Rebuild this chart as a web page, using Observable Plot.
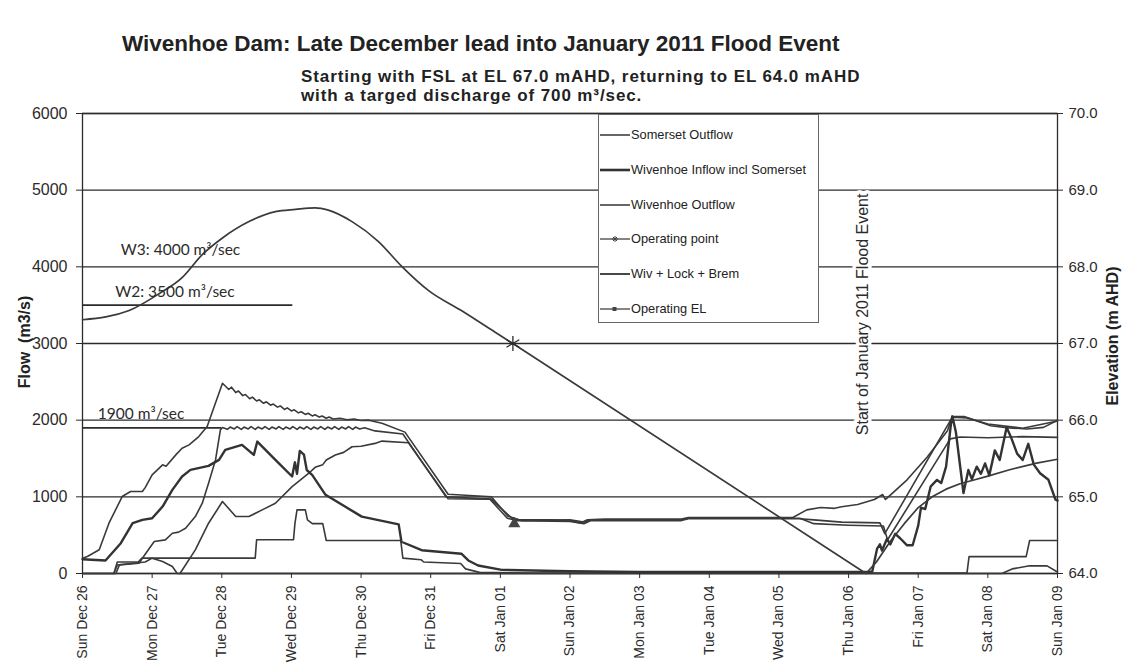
<!DOCTYPE html>
<html><head><meta charset="utf-8">
<script src="https://cdn.jsdelivr.net/npm/d3@7"></script>
<script src="https://cdn.jsdelivr.net/npm/@observablehq/plot@0.6"></script>
<style>
body{margin:0;background:#fff;width:1130px;height:664px;overflow:hidden;position:relative;font-family:"Liberation Sans",Arial,sans-serif;color:#222;}
#title{position:absolute;left:122px;top:31px;font-weight:bold;font-size:22.5px;white-space:nowrap;}
#sub{position:absolute;left:301px;top:67px;font-weight:bold;font-size:17px;letter-spacing:0.9px;line-height:19px;white-space:nowrap;}
#chart{position:absolute;left:0;top:100px;}
.ylab{position:absolute;font-weight:bold;font-size:16px;white-space:nowrap;transform:translate(-50%,-50%) rotate(-90deg);}
#legend{position:absolute;left:598px;top:114px;width:219px;height:207px;background:#fff;border:1px solid #666;}
.lg{position:absolute;left:0;height:15px;font-size:12.8px;white-space:nowrap;}
.lg svg{position:absolute;left:1px;top:3px;}
.lg span{position:absolute;left:32px;top:0;}
</style></head>
<body>
<div id="title">Wivenhoe Dam: Late December lead into January 2011 Flood Event</div>
<div id="sub">Starting with FSL at EL 67.0 mAHD, returning to EL 64.0 mAHD<br>with a targed discharge of 700 m³/sec.</div>
<div id="chart"></div>
<div class="ylab" style="left:25px;top:342px;">Flow&nbsp;&nbsp;(m3/s)</div>
<div class="ylab" style="left:1113px;top:336px;">Elevation (m AHD)</div>
<div id="legend"></div>
<script>
// ---- tick labels ----
const dayLabels = ["Sun Dec 26","Mon Dec 27","Tue Dec 28","Wed Dec 29","Thu Dec 30","Fri Dec 31","Sat Jan 01","Sun Jan 02","Mon Jan 03","Tue Jan 04","Wed Jan 05","Thu Jan 06","Fri Jan 07","Sat Jan 08","Sun Jan 09"];
const flowTicks = [0,1000,2000,3000,4000,5000,6000];
const elevTickLabels = ["64.0","65.0","66.0","67.0","68.0","69.0","70.0"];

// ---- series: [day since Sun Dec 26 00:00, flow m3/s] ----
const somersetOutflow = [[0,0],[0.45,0],[0.5,150],[0.8,150],[0.85,200],[2.48,200],[2.5,440],[3.03,440],[3.05,650],[3.08,830],[3.2,830],[3.23,700],[3.3,650],[3.45,650],[3.5,430],[4.57,430],[4.6,200],[4.86,180],[4.9,150],[5.43,130],[5.5,60],[5.7,15],[6.5,5],[12.7,5],[12.73,220],[13.55,220],[13.6,430],[14,430]];

const wivenhoeInflow = [[0,186],[0.33,169],[0.55,395],[0.72,656],[0.86,700],[1.0,721],[1.15,873],[1.29,1091],[1.43,1265],[1.55,1352],[1.81,1404],[1.96,1482],[2.05,1612],[2.29,1678],[2.46,1547],[2.51,1721],[2.77,1482],[3.01,1265],[3.05,1450],[3.08,1300],[3.12,1600],[3.18,1550],[3.22,1350],[3.3,1283],[3.49,1026],[4.01,742],[4.54,640],[4.58,414],[4.87,304],[5.44,258],[5.54,170],[5.68,104],[6.02,47],[7.0,30],[8.0,20],[11.3,20],[11.34,26],[11.41,325],[11.45,380],[11.48,300],[11.55,450],[11.6,380],[11.67,517],[11.74,460],[11.84,368],[11.92,368],[12.0,625],[12.04,860],[12.1,840],[12.18,1137],[12.27,1220],[12.33,1180],[12.4,1393],[12.47,1950],[12.49,2050],[12.54,1850],[12.65,1050],[12.72,1350],[12.77,1230],[12.84,1393],[12.9,1300],[12.96,1436],[13.02,1280],[13.1,1606],[13.17,1480],[13.27,1906],[13.34,1760],[13.42,1564],[13.5,1480],[13.58,1692],[13.66,1420],[13.75,1308],[13.87,1222],[13.97,965],[14.0,950]];

const wivenhoeOutflow = [[0,0],[0.48,0],[0.53,113],[0.81,134],[0.91,265],[1.03,417],[1.19,439],[1.29,525],[1.38,540],[1.48,590],[1.62,743],[1.72,917],[1.81,1177],[1.91,1482],[1.98,1873],[2.01,1904],[2.08,1880],[2.12,1910],[2.18,1885],[2.22,1915],[2.28,1880],[2.32,1910],[2.38,1885],[2.42,1915],[2.48,1880],[2.52,1910],[2.58,1885],[2.62,1915],[2.68,1880],[2.72,1910],[2.78,1885],[2.82,1915],[2.88,1880],[2.92,1910],[2.98,1885],[3.02,1915],[3.08,1880],[3.12,1910],[3.18,1885],[3.22,1915],[3.28,1880],[3.32,1910],[3.38,1885],[3.42,1915],[3.48,1880],[3.52,1910],[3.58,1885],[3.62,1915],[3.68,1880],[3.72,1910],[3.78,1885],[3.82,1915],[3.88,1880],[3.92,1910],[3.98,1885],[4.05,1900],[4.2,1860],[4.6,1820],[5.22,1000],[5.85,970],[6.1,720],[6.25,690],[7.0,680],[7.2,650],[7.3,690],[8.6,690],[8.7,715],[10.3,715],[10.5,700],[10.9,670],[11.45,660],[11.52,520],[12.49,2040],[12.7,2030],[13.0,1950],[13.5,1895],[14.0,1990]];

const wivLockBrem = [[0,200],[0.07,222],[0.24,309],[0.38,656],[0.57,1004],[0.69,1069],[0.86,1069],[0.9,1120],[1.0,1286],[1.15,1417],[1.2,1400],[1.34,1547],[1.43,1634],[1.53,1678],[1.67,1786],[1.79,1916],[2.01,2481],[2.1,2400],[2.14,2430],[2.2,2360],[2.24,2380],[2.3,2320],[2.34,2335],[2.4,2280],[2.44,2300],[2.5,2250],[2.54,2265],[2.6,2220],[2.64,2240],[2.7,2195],[2.74,2210],[2.8,2170],[2.84,2185],[2.9,2140],[2.94,2160],[3.0,2120],[3.04,2135],[3.1,2095],[3.14,2110],[3.2,2075],[3.24,2090],[3.3,2055],[3.34,2070],[3.4,2040],[3.44,2055],[3.5,2025],[3.54,2040],[3.6,2015],[3.7,2025],[3.8,2005],[3.9,2015],[4.0,1995],[4.11,2000],[4.3,1960],[4.63,1844],[5.25,1033],[5.5,1020],[5.87,1000],[6.11,747],[6.26,703],[6.73,700],[7.0,690],[7.15,660],[7.25,700],[7.5,710],[8.6,710],[8.7,730],[10.2,730],[10.4,830],[10.6,860],[10.8,850],[10.9,870],[11.13,900],[11.37,965],[11.49,1030],[11.53,965],[11.56,990],[11.84,1222],[12.13,1520],[12.42,1863],[12.49,2047],[12.66,2047],[13.04,1927],[13.3,1900],[13.56,1885],[13.8,1906],[14.0,2000]];

const otherFlow = [[1.4,0],[1.62,309],[1.81,656],[2.01,939],[2.2,743],[2.39,743],[2.58,830],[2.77,917],[3.01,1134],[3.25,1308],[3.34,1385],[3.45,1420],[3.5,1480],[3.63,1545],[3.75,1580],[3.87,1653],[4.0,1660],[4.2,1697],[4.3,1727],[4.68,1705],[5.25,975],[5.87,970],[6.16,725],[6.3,690],[7.0,700],[7.2,670],[7.3,700],[8.6,700],[8.7,720],[10.3,720],[10.5,650],[11.0,630],[11.5,620],[11.56,440],[12.46,1756],[12.6,1780],[13.0,1770],[13.5,1785],[14.0,1775]];

const smallFlow = [[0.45,0],[0.5,110],[0.9,150],[1.0,200],[1.15,156],[1.29,91],[1.36,0],[13.2,0],[13.35,60],[13.6,100],[13.85,100],[14,20]];

// ---- lake level, m AHD ----
const lakeLevelRise = [[0,67.31],[0.67,67.43],[1.10,67.65],[1.43,67.86],[1.72,68.16],[2.0,68.37],[2.39,68.59],[2.77,68.72],[3.06,68.75],[3.34,68.77],[3.53,68.74],[3.87,68.59],[4.25,68.33],[4.58,68.01],[4.97,67.69],[5.44,67.43],[5.92,67.15],[6.18,67.0]];
const lakeLevelDrawdown = [[6.18,67.0],[11.25,64.0],[11.4,64.15],[11.6,64.42],[11.8,64.65],[12.0,64.86],[12.2,65.0],[12.4,65.1],[12.6,65.17],[12.8,65.22],[13.0,65.27],[13.3,65.35],[13.7,65.44],[14.0,65.49]];
const operatingPoint = [[6.18,67.0]];
const operatingEL = [[6.2,650]];

// ---- reference lines & notes ----
const refLines = [{flow:3500,from:0,to:3.02},{flow:1900,from:0,to:2.0}];
const notes = [{x:0.55,flow:4213,text:"W3: 4000 m³/sec"},{x:0.47,flow:3665,text:"W2: 3500 m³/sec"},{x:0.22,flow:2074,text:"1900 m³/sec"}];
const eventNote = [{x:11.2,flow:3380,text:"Start of January 2011 Flood Event"}];

const el2f = e => (e - 64) * 1000;
const ink = "#2b2b2b";
const lineCol = "#3a3a3a";

const chart = Plot.plot({
  width:1130, height:564,
  marginLeft:82, marginRight:73, marginTop:13, marginBottom:91,
  x:{type:"linear", domain:[0,14]},
  y:{domain:[0,6000]},
  style:{fontFamily:"Liberation Sans, Arial, sans-serif", fontSize:"14px", color:ink, background:"transparent"},
  marks:[
    Plot.ruleY(flowTicks, {stroke:ink, strokeWidth:1.3}),
    Plot.ruleY(refLines, {y:"flow", x1:"from", x2:"to", stroke:ink, strokeWidth:1.6}),
    Plot.frame({stroke:ink, strokeWidth:1.3}),
    Plot.line(somersetOutflow, {x:d=>d[0], y:d=>d[1], stroke:lineCol, strokeWidth:1.6}),
    Plot.line(smallFlow, {x:d=>d[0], y:d=>d[1], stroke:lineCol, strokeWidth:1.6}),
    Plot.line(otherFlow, {x:d=>d[0], y:d=>d[1], stroke:lineCol, strokeWidth:1.6}),
    Plot.line(wivenhoeOutflow, {x:d=>d[0], y:d=>d[1], stroke:lineCol, strokeWidth:1.6}),
    Plot.line(wivLockBrem, {x:d=>d[0], y:d=>d[1], stroke:lineCol, strokeWidth:1.6}),
    Plot.line(wivenhoeInflow, {x:d=>d[0], y:d=>d[1], stroke:"#333", strokeWidth:2.4}),
    Plot.line(lakeLevelRise, {x:d=>d[0], y:d=>el2f(d[1]), stroke:lineCol, strokeWidth:1.7, curve:"monotone-x"}),
    Plot.line(lakeLevelDrawdown, {x:d=>d[0], y:d=>el2f(d[1]), stroke:lineCol, strokeWidth:1.7}),
    Plot.dot(operatingPoint, {x:d=>d[0], y:d=>el2f(d[1]), symbol:"asterisk", r:7, stroke:ink, strokeWidth:1.3}),
    Plot.dot(operatingEL, {x:d=>d[0], y:d=>d[1], symbol:"triangle", r:3.5, fill:"#444", stroke:"#444"}),
    Plot.text(notes, {x:"x", y:"flow", text:"text", textAnchor:"start", fontFamily:"Lato, 'Open Sans', sans-serif", fontSize:15.5, fill:ink}),
    Plot.text(eventNote, {x:"x", y:"flow", text:"text", rotate:-90, fontSize:16, fill:ink, stroke:"white", strokeWidth:7}),
    Plot.axisX({ticks:d3.range(dayLabels.length), tickFormat:i=>dayLabels[i], tickRotate:-90, tickSize:5, tickPadding:7, fontSize:14, label:null}),
    Plot.axisY({ticks:flowTicks, tickFormat:d=>String(d), tickSize:6, tickPadding:9, fontSize:16, label:null}),
    Plot.axisY({anchor:"right", ticks:flowTicks, tickFormat:d=>elevTickLabels[d/1000], tickSize:5, tickPadding:6, fontSize:15, label:null})
  ]
});
document.getElementById("chart").appendChild(chart);

// ---- legend ----
const legendItems = [
  {name:"Somerset Outflow", width:1.5, marker:null},
  {name:"Wivenhoe Inflow incl Somerset", width:2.6, marker:null},
  {name:"Wivenhoe Outflow", width:1.5, marker:null},
  {name:"Operating point", width:1.2, marker:"star"},
  {name:"Wiv + Lock + Brem", width:1.8, marker:null},
  {name:"Operating EL", width:1.2, marker:"square"}
];
const legendTops = [12, 47, 82, 116, 151, 186];
const lg = document.getElementById("legend");
legendItems.forEach((it, i) => {
  const row = document.createElement("div");
  row.className = "lg";
  row.style.top = legendTops[i] + "px";
  let mk = "";
  if (it.marker === "star") mk = '<path d="M12 5h6M15 2v6M13 3l4 4M17 3l-4 4" stroke="#444" stroke-width="1"/>';
  if (it.marker === "square") mk = '<rect x="12.5" y="3" width="4" height="4" fill="#444"/>';
  row.innerHTML = '<svg width="30" height="10"><line x1="0" y1="5" x2="30" y2="5" stroke="#333" stroke-width="' + it.width + '"/>' + mk + '</svg><span>' + it.name + '</span>';
  lg.appendChild(row);
});
</script>
</body></html>
